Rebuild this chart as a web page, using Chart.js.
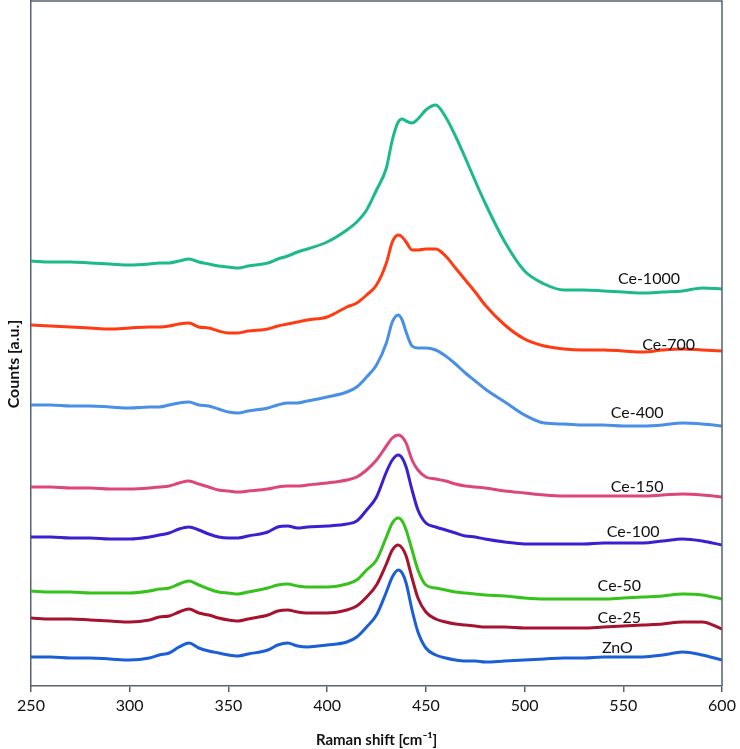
<!DOCTYPE html>
<html>
<head>
<meta charset="utf-8">
<script src="https://cdn.jsdelivr.net/npm/chart.js@4/dist/chart.umd.min.js"></script>
<style>
  html, body { margin: 0; padding: 0; background: #fff; }
  #wrap { width: 740px; height: 749px; }
</style>
</head>
<body>
<div id="wrap"><canvas id="raman"></canvas></div>
<script>
// Raman shift (cm-1) sample positions
const shift = [250, 260, 270, 280, 290, 300, 310, 315, 320, 325, 330, 335, 340, 345, 350, 355, 360, 370, 375, 380, 385, 390, 400,
  410, 415, 420, 425, 430, 433, 436, 438, 440, 443, 446, 450, 455, 460, 465, 470, 475, 480, 490, 500,
  510, 520, 530, 540, 550, 560, 570, 580, 590, 600];

// counts (a.u.), spectra already offset as in the figure
const ce1000 = [425, 424, 424, 423, 422, 421, 422, 423, 423, 425, 427, 424, 422, 420, 419, 418, 420, 423, 427, 430, 434, 437, 444,
  456, 464, 476, 496, 518, 546, 564, 567, 565, 563, 567, 576, 581, 569, 550, 528, 505, 483, 444, 415,
  402, 396, 396, 395, 394, 393, 394, 395, 398, 397];
const ce700 = [361, 360, 359, 358, 357, 358, 359, 359, 360, 362, 363, 359, 358, 355, 353, 353, 355, 357, 360, 362, 364, 366, 369,
  379, 383, 391, 401, 423, 444, 451, 449, 444, 436, 436, 437, 437, 430, 418, 406, 394, 381, 361, 347,
  340, 337, 336, 336, 335, 334, 336, 337, 336, 335];
const ce400 = [281, 281, 280, 280, 279, 278, 279, 279, 281, 283, 284, 281, 280, 277, 274, 273, 275, 278, 281, 283, 283, 285, 289,
  294, 299, 309, 321, 343, 364, 371, 366, 354, 340, 338, 338, 336, 330, 322, 313, 305, 297, 284, 271,
  263, 262, 261, 261, 260, 260, 261, 263, 262, 260];
const ce150 = [199, 199, 198, 198, 197, 197, 198, 199, 200, 203, 205, 202, 199, 196, 195, 194, 195, 197, 199, 200, 200, 201, 203,
  206, 209, 216, 226, 240, 248, 251, 249, 243, 226, 216, 209, 207, 205, 202, 200, 199, 198, 195, 193,
  191, 190, 190, 190, 190, 190, 191, 192, 191, 189];
const ce100 = [149, 149, 148, 148, 147, 147, 149, 151, 153, 157, 159, 156, 152, 149, 148, 148, 150, 154, 159, 160, 158, 159, 160,
  162, 165, 176, 189, 214, 226, 231, 228, 219, 196, 176, 163, 159, 156, 153, 150, 149, 147, 144, 142,
  142, 142, 142, 143, 143, 143, 145, 147, 145, 141];
const ce50 = [95, 94, 94, 93, 93, 93, 95, 97, 98, 102, 105, 101, 97, 94, 93, 92, 94, 98, 101, 102, 100, 99, 99,
  102, 106, 116, 126, 149, 163, 168, 165, 156, 136, 116, 101, 98, 96, 94, 93, 92, 91, 90, 88,
  87, 87, 87, 87, 88, 89, 90, 92, 91, 87];
const ce25 = [68, 67, 67, 66, 65, 64, 66, 69, 70, 74, 77, 73, 71, 68, 66, 65, 67, 71, 75, 76, 74, 73, 73,
  76, 80, 89, 101, 122, 136, 141, 138, 130, 108, 88, 74, 67, 64, 62, 61, 60, 59, 59, 58,
  58, 58, 58, 59, 60, 61, 62, 64, 64, 57];
const zno = [29, 29, 28, 28, 27, 26, 28, 31, 33, 39, 43, 38, 35, 33, 31, 30, 32, 36, 41, 43, 40, 39, 41,
  44, 49, 59, 71, 94, 109, 116, 113, 103, 76, 54, 38, 31, 28, 26, 25, 25, 24, 25, 26,
  27, 28, 28, 29, 29, 29, 31, 34, 31, 26];

const xTicks = [250, 300, 350, 400, 450, 500, 550, 600];

const names = ['Ce-1000', 'Ce-700', 'Ce-400', 'Ce-150', 'Ce-100', 'Ce-50', 'Ce-25', 'ZnO'];
const series = [ce1000, ce700, ce400, ce150, ce100, ce50, ce25, zno];
const colors = ['#1cba8b', '#ff3b14', '#4a8fe6', '#dd467c', '#3a20cf', '#35c21b', '#a5132f', '#1b5fd6'];

// where the curve names sit (data units)
const labelAt = [[563, 407], [573, 341], [557, 273], [557, 199], [555, 154], [548, 100], [548, 68], [547, 38]];

const datasets = series.map((vals, i) => ({
  label: names[i],
  data: shift.map((x, j) => ({ x: x, y: vals[j] })),
  borderColor: colors[i],
  borderWidth: 3,
  pointRadius: 0,
  fill: false,
  cubicInterpolationMode: 'monotone'
}));

const framePlugin = {
  id: 'frame',
  afterDraw(chart) {
    const { ctx, chartArea: a, scales } = chart;
    ctx.save();
    ctx.strokeStyle = '#56626c';
    ctx.lineWidth = 1.5;
    ctx.beginPath();
    ctx.moveTo(a.left, a.top);
    ctx.lineTo(a.right, a.top);
    ctx.lineTo(a.right, a.bottom);
    ctx.stroke();

    ctx.fillStyle = '#111';
    ctx.font = '16px Lato, "Open Sans", sans-serif';
    ctx.textAlign = 'center';
    ctx.textBaseline = 'middle';
    labelAt.forEach((p, i) => {
      ctx.fillText(names[i], scales.x.getPixelForValue(p[0]), scales.y.getPixelForValue(p[1]));
    });

    ctx.translate(14, 364);
    ctx.rotate(-Math.PI / 2);
    ctx.font = 'bold 16px Lato, "Open Sans", sans-serif';
    ctx.fillText('Counts [a.u.]', 0, 0);
    ctx.restore();
  }
};

new Chart(document.getElementById('raman'), {
  type: 'line',
  data: { datasets: datasets },
  options: {
    responsive: true,
    maintainAspectRatio: false,
    animation: false,
    layout: { padding: { top: 1, right: 18, left: 0, bottom: 0 } },
    plugins: { legend: { display: false }, tooltip: { enabled: false } },
    scales: {
      x: {
        type: 'linear',
        min: 250,
        max: 600,
        afterBuildTicks: (s) => { s.ticks = xTicks.map(v => ({ value: v })); },
        afterFit: (s) => { s.height = 63; },
        grid: { display: true, drawOnChartArea: false, drawTicks: true, tickLength: 6, color: '#56626c', lineWidth: 1.5 },
        border: { color: '#56626c', width: 1.5 },
        ticks: { color: '#111', font: { family: 'Lato, "Open Sans", sans-serif', size: 16 }, padding: 4, maxRotation: 0 },
        title: { display: true, text: 'Raman shift [cm⁻¹]', color: '#111', font: { family: 'Lato, "Open Sans", sans-serif', size: 15, weight: 'bold' }, padding: { top: 2, bottom: 0 } }
      },
      y: {
        min: 0,
        max: 685,
        afterFit: (s) => { s.width = 31; },
        grid: { display: false },
        border: { display: true, color: '#56626c', width: 1.5 },
        ticks: { display: false }
      }
    }
  },
  plugins: [framePlugin]
});
</script>
</body>
</html>
